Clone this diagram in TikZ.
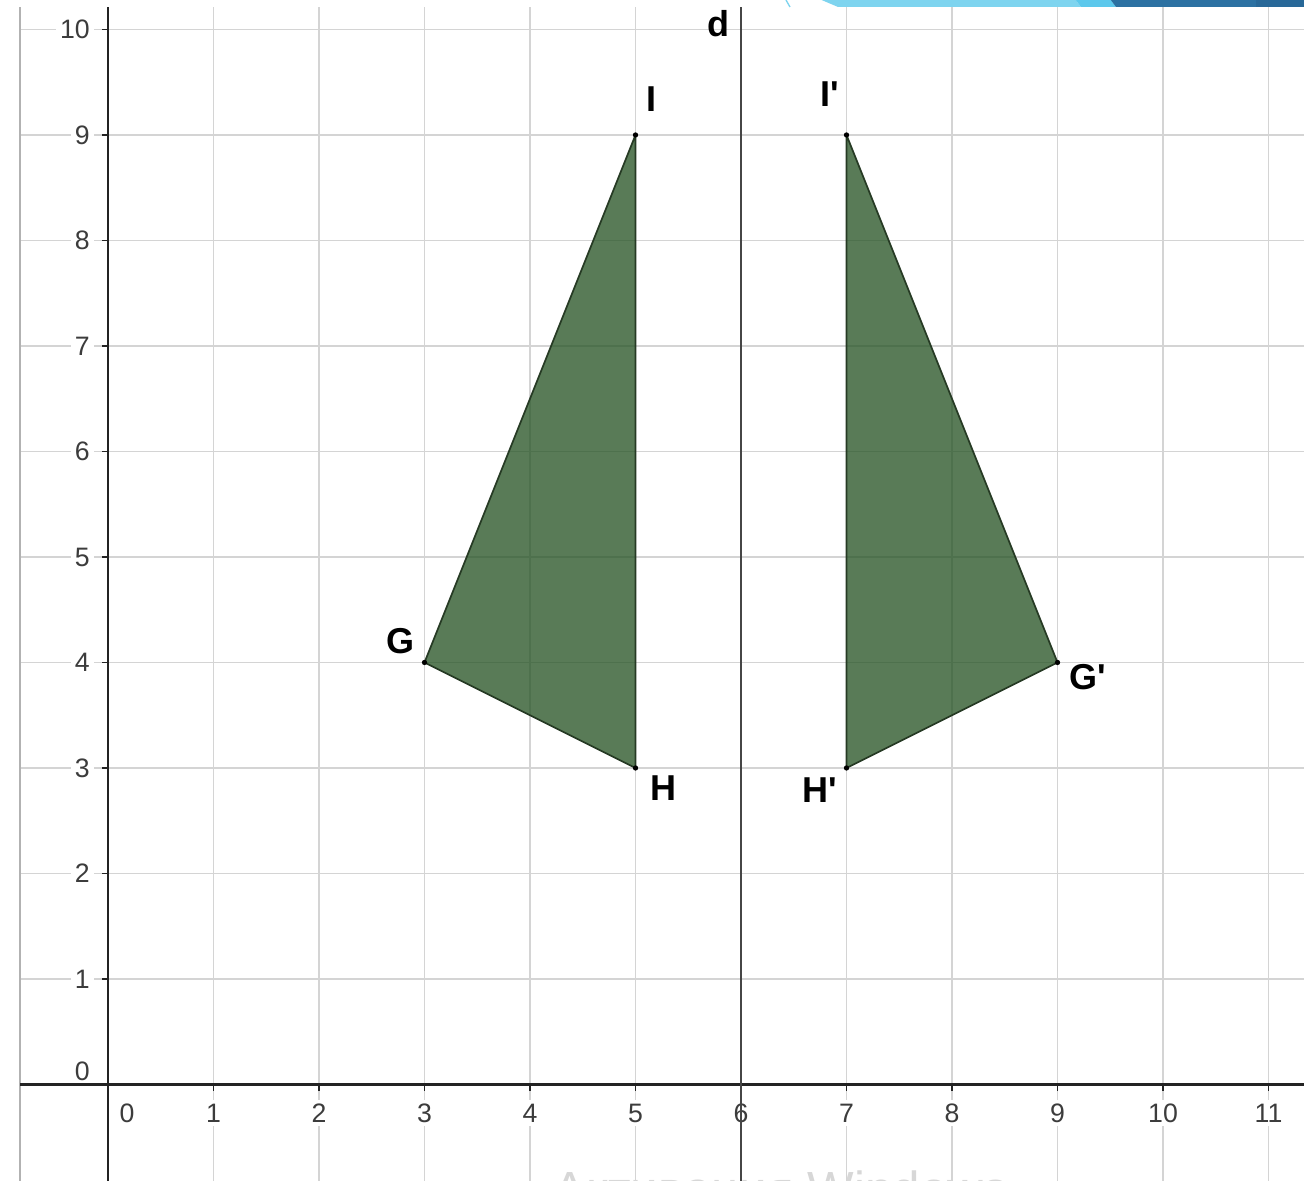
\documentclass[tikz,border=0pt]{standalone}
\usepackage{fontspec}
\setmainfont{Liberation Sans}
\definecolor{gridgray}{RGB}{212,212,212}
\definecolor{axisgray}{RGB}{35,35,35}
\definecolor{lblgray}{RGB}{60,60,60}
\definecolor{dgray}{RGB}{70,70,70}
\definecolor{trigreen}{RGB}{34,80,32}
\definecolor{triedge}{RGB}{38,58,36}
\definecolor{blueA}{RGB}{126,212,239}
\definecolor{blueB}{RGB}{92,200,236}
\definecolor{blueC}{RGB}{44,113,162}
\definecolor{blueD}{RGB}{40,104,152}
\definecolor{wmgray}{RGB}{215,215,215}
\begin{document}
\begin{tikzpicture}[x=79.125pt,y=79.125pt,
  gridline/.style={line width=1.3pt, draw=gridgray},
  axisline/.style={line width=1.6pt, draw=axisgray},
  tickmark/.style={line width=1.2pt, draw=axisgray},
  ticklbl/.style={font=\fontsize{20}{20}\selectfont, text=lblgray, fill=white, inner sep=3pt},
  ptlbl/.style={font=\fontsize{27}{27}\selectfont\bfseries, text=black, inner sep=0pt},
  vertex/.style={circle, fill=black, inner sep=0pt, minimum size=4pt},
  triface/.style={fill=trigreen, fill opacity=0.75, draw=triedge, line width=1.3pt, line join=round}]
\useasboundingbox (-1.0237,-0.9147) rectangle (11.3365,10.2796);
\clip (-1.0237,-0.9147) rectangle (11.3365,10.2796);
\fill[white] (-1.0237,-0.9147) rectangle (11.3365,10.2796);
% grid
\foreach \i in {1,...,11} \draw[gridline] (\i,-0.95) -- (\i,10.2133);
\foreach \j in {1,...,10} \draw[gridline] (-0.834,\j) -- (11.34,\j);
% left border
\draw[line width=1.3pt, draw=gray!60] (-0.834,-0.95) -- (-0.834,10.2133);
% watermark (cut off at the bottom edge, as in the reference)
\node[anchor=base west, inner sep=0pt, text=wmgray, font=\fontsize{37}{37}\selectfont] (wm) at (4.218,-1.152) {Активация Windows};
% axis labels
\foreach \i in {1,...,11} \node[ticklbl] (xl\i) at (\i,-0.27) {\i};
\node[ticklbl] (xl0) at (0.18,-0.27) {0};
\foreach \j in {1,...,10} \node[ticklbl, anchor=east] (yl\j) at (-0.1327,\j) {\j};
\node[ticklbl, anchor=east] (yl0) at (-0.1327,0.128) {0};
% axes
\draw[axisline] (-0.834,0) -- (11.34,0);
\draw[axisline] (0,-0.95) -- (0,10.2133);
\foreach \i in {1,...,11} \draw[tickmark] (\i,0) -- (\i,-0.057);
\foreach \j in {1,...,10} \draw[tickmark] (0,\j) -- (-0.057,\j);
% line d
\draw[line width=1.5pt, draw=dgray] (6,-0.95) -- (6,10.2133);
\node[ptlbl] (dl) at (5.782,10.060) {d};
% triangles
\coordinate (G) at (3,4);
\coordinate (H) at (5,3);
\coordinate (I) at (5,9);
\coordinate (G2) at (9,4);
\coordinate (H2) at (7,3);
\coordinate (I2) at (7,9);
\path[triface] (G) -- (H) -- (I) -- cycle;
\path[triface] (G2) -- (H2) -- (I2) -- cycle;
\foreach \p in {G,H,I,G2,H2,I2} \node[vertex] (dot\p) at (\p) {};
% point labels
\node[ptlbl] (lG) at (2.768,4.204) {G};
\node[ptlbl] (lH) at (5.261,2.810) {H};
\node[ptlbl] (lI) at (5.147,9.341) {I};
\node[ptlbl] (lG2) at (9.289,3.858) {G\textquotesingle};
\node[ptlbl] (lH2) at (6.749,2.791) {H\textquotesingle};
\node[ptlbl] (lI2) at (6.844,9.389) {I\textquotesingle};
% top strip
\fill[white] (-1.03,10.2133) rectangle (11.34,10.29);
\draw[blueA, line width=1pt] (6.4265,10.2796) -- (6.4645,10.2133);
\fill[blueA] (6.7393,10.29) -- (6.9194,10.2133) -- (9.2227,10.2133) -- (9.1659,10.29) -- cycle;
\fill[blueB] (9.1659,10.29) -- (9.2227,10.2133) -- (9.5545,10.2133) -- (9.4976,10.29) -- cycle;
\fill[blueC] (9.4976,10.29) -- (9.5545,10.2133) -- (10.8815,10.2133) -- (10.8815,10.29) -- cycle;
\fill[blueD] (10.8815,10.29) rectangle (11.34,10.2133);
\end{tikzpicture}
\end{document}
